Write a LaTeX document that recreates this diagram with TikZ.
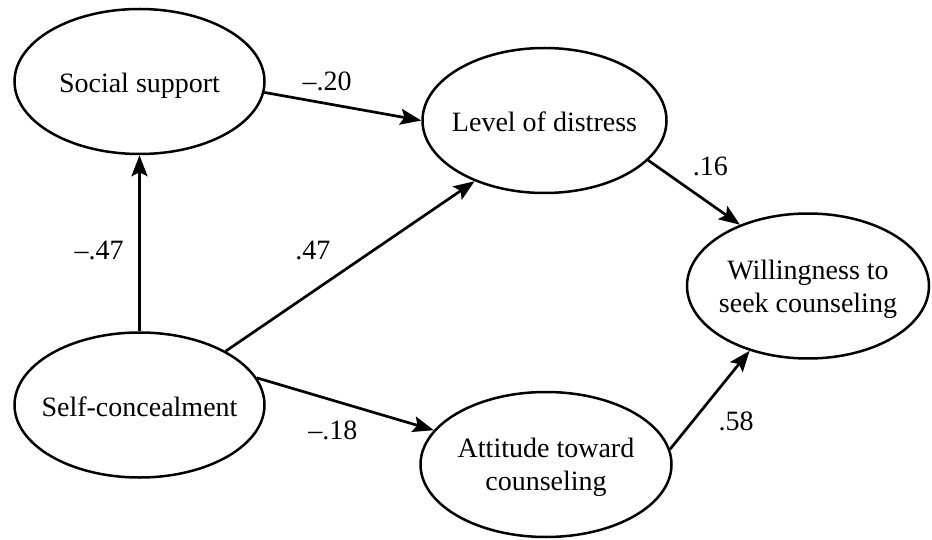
\documentclass[tikz,border=0pt]{standalone}
\usepackage{fontspec}
\setmainfont{Liberation Serif}
\usetikzlibrary{shapes.geometric, positioning, arrows.meta}
\tikzset{
node distance=400pt, % default gap between two centres, changed per node below
every node/.style={font=\fontsize{28}{33}\selectfont}, % same text size everywhere
latent/.style={ellipse, draw, line width=2.5pt, minimum width=248pt, minimum height=145pt, inner xsep=-15pt, inner ysep=0pt, text depth=0pt, align=center}, % the ovals, sized by minimum width/height only
oneline/.style={text height=22pt}, % pushes a single line a bit below the centre
causal/.style={-{Stealth[length=21pt, width=16pt, inset=4pt]}, line width=2.7pt}, % directed paths
coef/.style={inner sep=0pt}, % path coefficients
}

\begin{document}
\begin{tikzpicture}[x=1pt, y=1pt]
        \useasboundingbox (0,0) rectangle (932,-540);

        \node[latent, oneline, minimum width=250pt] (ss) at (139.5,-81.5) {Social support};
        \node[latent, oneline, node distance=323.5pt, below of=ss, minimum width=250pt] (sc) {Self-concealment};
        \node[latent, oneline, node distance=405pt, right of=ss, yshift=-39pt, minimum width=244pt] (ld) {Level of distress};
        \node[latent, node distance=406.5pt, right of=sc, yshift=-59.5pt, minimum width=251pt] (att) {Attitude toward\\counseling};
        \node[latent, node distance=263.5pt, right of=ld, yshift=-165.5pt, minimum width=242pt] (wi) {Willingness to\\seek counseling};

        \draw (ss.-5) edge[causal] node[coef, pos=0.4, above=11pt]{\textendash.20} (ld.west)
              (sc.north) edge[causal] node[coef, pos=0.46, left=14.5pt]{\textendash.47} (ss.south)
              (sc.32) edge[causal] node[coef, pos=0.35, above=30pt]{.47} (ld.221)
              (sc.13) edge[causal] node[coef, pos=0.43, below=19pt]{\textendash.18} (att.163)
              (ld.-21) edge[causal] node[coef, pos=0.1, right=34pt]{.16} (wi.138)
              (att.7) edge[causal] node[coef, pos=0.28, right=25pt]{.58} (wi.228)
              ;

    \end{tikzpicture}
\end{document}
